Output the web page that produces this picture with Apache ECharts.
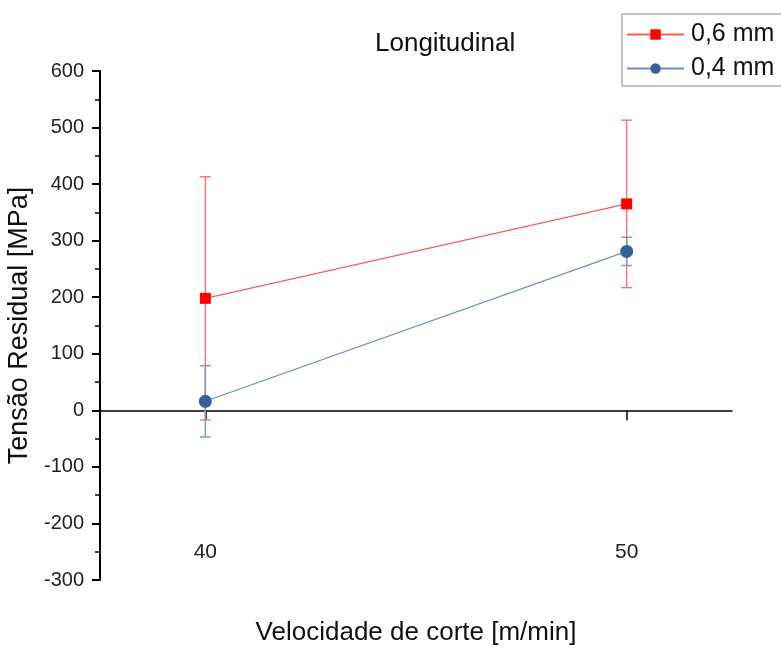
<!DOCTYPE html>
<html>
<head>
<meta charset="utf-8">
<script src="https://cdn.jsdelivr.net/npm/echarts@6/dist/echarts.min.js"></script>
<style>
html, body { margin: 0; padding: 0; background: #fff; }
#main { width: 781px; height: 648px; }
</style>
</head>
<body>
<div id="main"></div>
<script>
// velocidade de corte [m/min]
var velocidades = [40, 50];
// tensão residual média [MPa] e desvio
var media06 = [198, 365];
var erro06 = [215, 148];
var media04 = [16, 281];
var erro04 = [63, 25];
var yTicks = [-300, -200, -100, 0, 100, 200, 300, 400, 500, 600];

var fonte = 'Liberation Sans, Arial, sans-serif';

function pontos(media) {
	var d = [];
	for (var i = 0; i < velocidades.length; i++) {
		d.push([velocidades[i], media[i]]);
	}
	return d;
}
function barras(media, erro) {
	var d = [];
	for (var i = 0; i < velocidades.length; i++) {
		d.push([velocidades[i], media[i] - erro[i], media[i] + erro[i]]);
	}
	return d;
}
function desenhaErro(cor) {
	return function (params, api) {
		var baixo = api.coord([api.value(0), api.value(1)]);
		var cima = api.coord([api.value(0), api.value(2)]);
		var w = 5.5;
		var estilo = { stroke: cor, lineWidth: 1.5 };
		return {
			type: 'group',
			children: [
				{ type: 'line', shape: { x1: cima[0], y1: cima[1], x2: baixo[0], y2: baixo[1] }, style: estilo },
				{ type: 'line', shape: { x1: cima[0] - w, y1: cima[1], x2: cima[0] + w, y2: cima[1] }, style: estilo },
				{ type: 'line', shape: { x1: baixo[0] - w, y1: baixo[1], x2: baixo[0] + w, y2: baixo[1] }, style: estilo }
			]
		};
	};
}

var myChart = echarts.init(document.getElementById('main'));
myChart.setOption({
	animation: false,
	textStyle: { fontFamily: fonte },
	title: {
		text: 'Longitudinal',
		left: 370,
		top: 26,
		textStyle: { fontSize: 26, fontWeight: 'normal', color: '#111', fontFamily: fonte }
	},
	legend: {
		orient: 'vertical',
		left: 622,
		top: 14,
		padding: [8, 20, 5, 4],
		itemWidth: 57,
		itemHeight: 13,
		itemGap: 9,
		borderColor: '#888',
		borderWidth: 1,
		textStyle: { fontSize: 25, lineHeight: 22, color: '#111', fontFamily: fonte, padding: [0, 0, 0, 2] },
		data: ['0,6 mm', '0,4 mm']
	},
	grid: { left: 100, right: 49, top: 71, bottom: 68, containLabel: false, outerBoundsMode: 'none' },
	xAxis: [
		{
			type: 'value',
			min: 37.5,
			max: 52.5,
			axisLine: { onZero: true, lineStyle: { color: '#000', width: 1.5 } },
			axisTick: { show: true, inside: false, length: 10, customValues: velocidades, lineStyle: { color: '#000', width: 1.5 } },
			axisLabel: { show: false },
			splitLine: { show: false }
		},
		{
			type: 'value',
			position: 'bottom',
			min: 37.5,
			max: 52.5,
			name: 'Velocidade de corte [m/min]',
			nameLocation: 'middle',
			nameGap: 40,
			nameTextStyle: { fontSize: 26, color: '#111', fontFamily: fonte },
			axisLine: { show: false, onZero: false },
			axisTick: { show: false },
			axisLabel: { customValues: velocidades, inside: true, margin: 17, fontSize: 21, color: '#222', fontFamily: fonte },
			splitLine: { show: false }
		}
	],
	yAxis: {
		type: 'value',
		min: -300,
		max: 600,
		interval: 100,
		name: 'Tensão Residual [MPa]',
		nameLocation: 'middle',
		nameGap: 66,
		nameTextStyle: { fontSize: 27, color: '#111', fontFamily: fonte },
		axisLine: { show: true, onZero: false, lineStyle: { color: '#000', width: 2 } },
		axisTick: { show: true, length: 8, lineStyle: { color: '#000', width: 2 } },
		minorTick: { show: true, splitNumber: 2, length: 5, lineStyle: { color: '#000', width: 1.5 } },
		axisLabel: {
			margin: 16, fontSize: 20, color: '#222', fontFamily: fonte,
			customValues: yTicks
		},
		splitLine: { show: false }
	},
	series: [
		{
			type: 'custom',
			name: 'erro06',
			renderItem: desenhaErro('#ff7878'),
			data: barras(media06, erro06),
			encode: { x: 0, y: [1, 2] },
			z: 1
		},
		{
			type: 'custom',
			name: 'erro04',
			renderItem: desenhaErro('#7f9cc4'),
			data: barras(media04, erro04),
			encode: { x: 0, y: [1, 2] },
			z: 1
		},
		{
			name: '0,6 mm',
			type: 'line',
			data: pontos(media06),
			symbol: 'rect',
			symbolSize: 11,
			itemStyle: { color: '#ff0000' },
			lineStyle: { color: '#ff5a5a', width: 1.2 },
			z: 3
		},
		{
			name: '0,4 mm',
			type: 'line',
			data: pontos(media04),
			symbol: 'circle',
			symbolSize: 13,
			itemStyle: { color: '#336299' },
			lineStyle: { color: '#6f8fbd', width: 1.2 },
			z: 4
		}
	]
});
</script>
</body>
</html>
